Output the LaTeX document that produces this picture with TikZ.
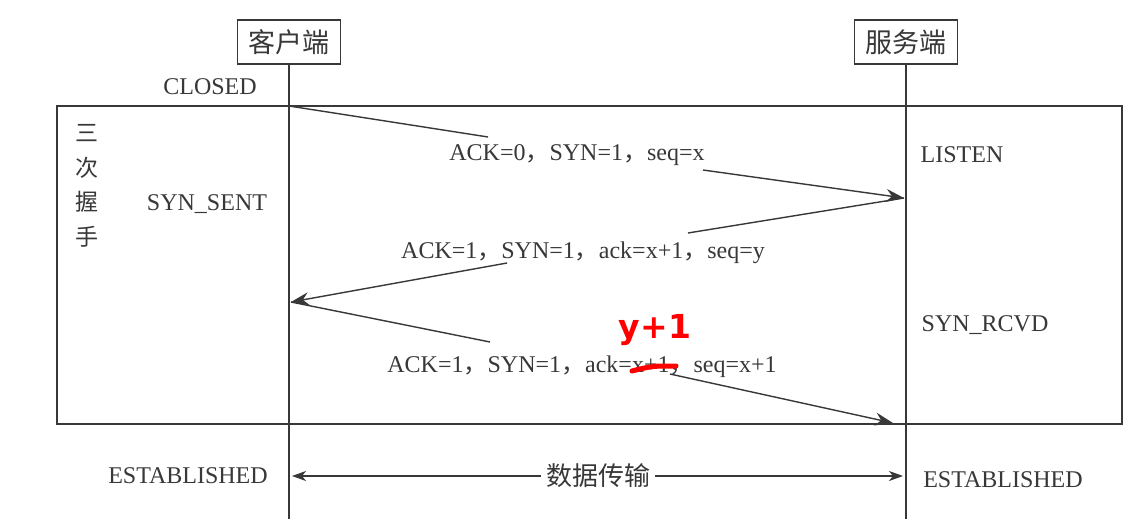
\documentclass[tikz,border=0pt]{standalone}
\usepackage{fontspec}
\setmainfont{Liberation Serif}
\newfontfamily\cjk{Noto Sans CJK SC}
\newfontfamily\handfont{DejaVu Sans}
\usetikzlibrary{arrows.meta, calc}
\newcommand{\cm}{{\cjk ，}}
\tikzset{
  lbl/.style={font=\fontsize{24}{28}\selectfont, inner sep=0pt},
  actor/.style={draw, minimum width=103pt, minimum height=44pt, inner sep=2pt, font=\cjk\fontsize{27}{30}\selectfont},
  vlbl/.style={align=center, inner sep=0pt, font=\cjk\fontsize{23}{34.5}\selectfont},
  msg/.style={-{Stealth[length=18pt, width=13pt, inset=6pt]}},
  dat/.style={-{Stealth[length=14pt, width=10pt, inset=4pt]}}
}
\begin{document}
\begin{tikzpicture}[x=1pt, y=-1pt, line width=1.4pt, color=black!78]
\useasboundingbox (0,0) rectangle (1135,519);
\fill[white] (0,0) rectangle (1135,519);
\draw (57,106) rectangle (1122,424);
\node[actor] (cli) at (289,42) {客户端};
\node[actor] (srv) at (906,42) {服务端};
\coordinate (cliend) at (289,519);
\coordinate (srvend) at (906,519);
\draw (cli) -- (cliend);
\draw (srv) -- (srvend);
\node[lbl] (closed) at (210,87) {CLOSED};
\node[lbl] (synsent) at (207,204) {SYN\_SENT};
\node[lbl] (listen) at (962,155) {LISTEN};
\node[lbl] (synrcvd) at (985,325) {SYN\_RCVD};
\node[lbl] (estc) at (188,476) {ESTABLISHED};
\node[lbl] (ests) at (1003,480) {ESTABLISHED};
\node[vlbl] (hs) at (87,186) {三\\次\\握\\手};
\coordinate (c1) at (289,106);
\coordinate (s1) at (904,198);
\coordinate (c2) at (291,302);
\coordinate (s2) at (893,423);
\node[lbl] (m1) at (577,155) {ACK=0\cm SYN=1\cm seq=x};
\node[lbl] (m2) at (583,253) {ACK=1\cm SYN=1\cm ack=x+1\cm seq=y};
\node[lbl] (m3) at (582,367) {ACK=1\cm SYN=1\cm ack=x+1\cm seq=x+1};
\coordinate (m1w) at ($(m1)+(-89,-18)$);
\coordinate (m1e) at ($(m1)+(126,15)$);
\coordinate (m2e) at ($(m2)+(105,-20)$);
\coordinate (m2w) at ($(m2)+(-76,10)$);
\coordinate (m3w) at ($(m3)+(-92,-25)$);
\coordinate (m3e) at ($(m3)+(88,7)$);
\draw (c1) -- (m1w);
\draw[msg] (m1e) -- (s1);
\draw (s1) -- (m2e);
\draw[msg] (m2w) -- (c2);
\draw (c2) -- (m3w);
\draw[msg] (m3e) -- (s2);
\node[lbl, inner sep=4pt, font=\cjk\fontsize{26}{28}\selectfont] (data) at (598,476) {数据传输};
\coordinate (ce) at (292,476);
\coordinate (se) at (903,476);
\draw[dat] (data) -- (ce);
\draw[dat] (data) -- (se);
\node[text=red, inner sep=0pt, font=\handfont\bfseries\fontsize{33}{34}\selectfont] (fix) at (655,330) {y+1};
\draw[red, line width=5pt, line cap=round] (632,371) .. controls (652,366) .. (676,366);
\end{tikzpicture}
\end{document}
